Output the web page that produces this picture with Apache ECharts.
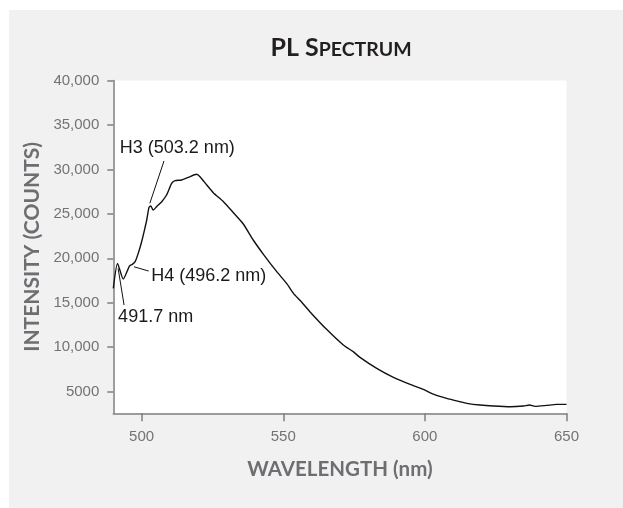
<!DOCTYPE html>
<html>
<head>
<meta charset="utf-8">
<script src="https://cdn.jsdelivr.net/npm/echarts@6/dist/echarts.min.js"></script>
<style>
html,body{margin:0;padding:0;background:#ffffff;}
#chart{width:623px;height:508px;}
</style>
</head>
<body>
<div id="chart"></div>
<script>
// ---- data ----
const wavelength = [490, 491.5, 493.5, 495.7, 496.7, 497.7, 498.8, 500.0, 501.0, 501.8, 502.6, 503.2, 504.1, 505.3, 507.1, 508.8, 510.6, 511.8, 514.1, 516.5, 519.4, 520.6, 523.0, 525.3, 528.9, 532.4, 535.9, 539.4, 543.0, 547.7, 551.2, 553.6, 556.0, 559.4, 565.3, 571.2, 574.7, 577.1, 583.0, 588.9, 594.8, 599.5, 603.0, 607.7, 612.4, 614.8, 619.5, 624.2, 630.1, 634.8, 636.9, 638.9, 643.0, 646.5, 650];
const intensity = [16620, 19430, 17670, 19130, 19320, 19620, 20560, 21870, 23180, 24310, 25730, 25900, 25430, 25810, 26370, 27120, 28430, 28730, 28810, 29110, 29450, 29180, 28250, 27380, 26370, 25130, 23860, 22060, 20450, 18500, 17180, 16060, 15250, 14000, 12010, 10250, 9500, 8860, 7620, 6610, 5820, 5260, 4730, 4250, 3870, 3690, 3500, 3390, 3310, 3390, 3500, 3350, 3460, 3570, 3570];

const xTicks = [500, 550, 600, 650];
const xTickLabels = ['500', '550', '600', '650'];
const yTicks = [5000, 10000, 15000, 20000, 25000, 30000, 35000, 40000];
const yTickLabels = ['5000', '10,000', '15,000', '20,000', '25,000', '30,000', '35,000', '40,000'];

const annLabels = ['H3 (503.2 nm)', 'H4 (496.2 nm)', '491.7 nm'];
const annTextAt = [[492.3, 32370], [503.4, 18040], [491.7, 13430]];
const annLineFrom = [[507.9, 30950], [497.3, 19050], [491.7, 18870]];
const annLineTo = [[502.9, 26190], [502.5, 18570], [493.8, 14750]];

const titleMain = 'PL S';
const titleSmall = 'PECTRUM';
const xName = 'WAVELENGTH (nm)';
const yName = 'INTENSITY (COUNTS)';

// ---- chart ----
const chart = echarts.init(document.getElementById('chart'), null, {renderer: 'canvas'});
const axisGray = '#7f7f7f';
const labelGray = '#737376';
const nameGray = '#6d6e71';
const numFont = '"Liberation Sans", Arial, sans-serif';
const nameFont = 'Lato, "Noto Sans", sans-serif';

const option = {
  animation: false,
  backgroundColor: '#ffffff',
  graphic: [{
    type: 'rect', z: -10, silent: true,
    shape: {x: 9, y: 10, width: 614, height: 498},
    style: {fill: '#f1f1f1'}
  }],
  title: {
    text: '{a|' + titleMain + '}{b|' + titleSmall + '}',
    left: 336, top: 28, textAlign: 'center',
    textStyle: {
      rich: {
        a: {fontFamily: nameFont, fontWeight: 'bold', fontSize: 25, color: '#231f20', verticalAlign: 'bottom', lineHeight: 27},
        b: {fontFamily: nameFont, fontWeight: 'bold', fontSize: 19.5, color: '#231f20', verticalAlign: 'bottom', lineHeight: 27}
      }
    }
  },
  grid: {
    left: 113.3, right: 56.5, top: 80.5, bottom: 94.7,
    show: true, backgroundColor: '#ffffff', borderWidth: 0,
    outerBoundsMode: 'none', containLabel: false
  },
  xAxis: {
    type: 'value', min: 490, max: 650,
    name: xName, nameLocation: 'middle', nameGap: 46,
    nameTextStyle: {fontFamily: nameFont, fontWeight: 'bold', fontSize: 20.5, color: nameGray},
    axisLine: {show: true, onZero: false, lineStyle: {color: axisGray, width: 1.5}},
    axisTick: {show: true, customValues: xTicks, length: 8, lineStyle: {color: axisGray, width: 1.5}},
    axisLabel: {show: true, customValues: xTicks, margin: 16, fontFamily: numFont, fontSize: 15, color: labelGray,
      formatter: v => xTickLabels[xTicks.indexOf(v)]},
    splitLine: {show: false}
  },
  yAxis: {
    type: 'value', min: 2570, max: 40000,
    name: yName, nameLocation: 'middle', nameGap: 63,
    nameTextStyle: {fontFamily: nameFont, fontWeight: 'bold', fontSize: 21, color: nameGray},
    axisLine: {show: true, onZero: false, lineStyle: {color: axisGray, width: 1.5}},
    axisTick: {show: true, customValues: yTicks, length: 6, lineStyle: {color: axisGray, width: 1.5}},
    axisLabel: {show: true, customValues: yTicks, margin: 14, fontFamily: numFont, fontSize: 15, color: labelGray,
      formatter: v => yTickLabels[yTicks.indexOf(v)]},
    splitLine: {show: false}
  },
  series: [{
    type: 'line',
    data: wavelength.map((w, i) => [w, intensity[i]]),
    showSymbol: false, symbol: 'none', smooth: 0.2,
    lineStyle: {color: '#111111', width: 1.4},
    silent: true,
    markLine: {
      silent: true, symbol: ['none', 'none'], animation: false,
      label: {show: false},
      lineStyle: {color: '#111111', width: 1, type: 'solid'},
      emphasis: {disabled: true},
      data: annLineFrom.map((c, i) => [{coord: c}, {coord: annLineTo[i]}])
    },
    markPoint: {
      silent: true, symbol: 'circle', symbolSize: 0, animation: false,
      label: {show: true, position: 'right', distance: 0, fontFamily: numFont, fontSize: 18, color: '#1a1a1a',
        formatter: p => p.name},
      data: annTextAt.map((c, i) => ({coord: c, name: annLabels[i]}))
    }
  }]
};
chart.setOption(option);
</script>
</body>
</html>
